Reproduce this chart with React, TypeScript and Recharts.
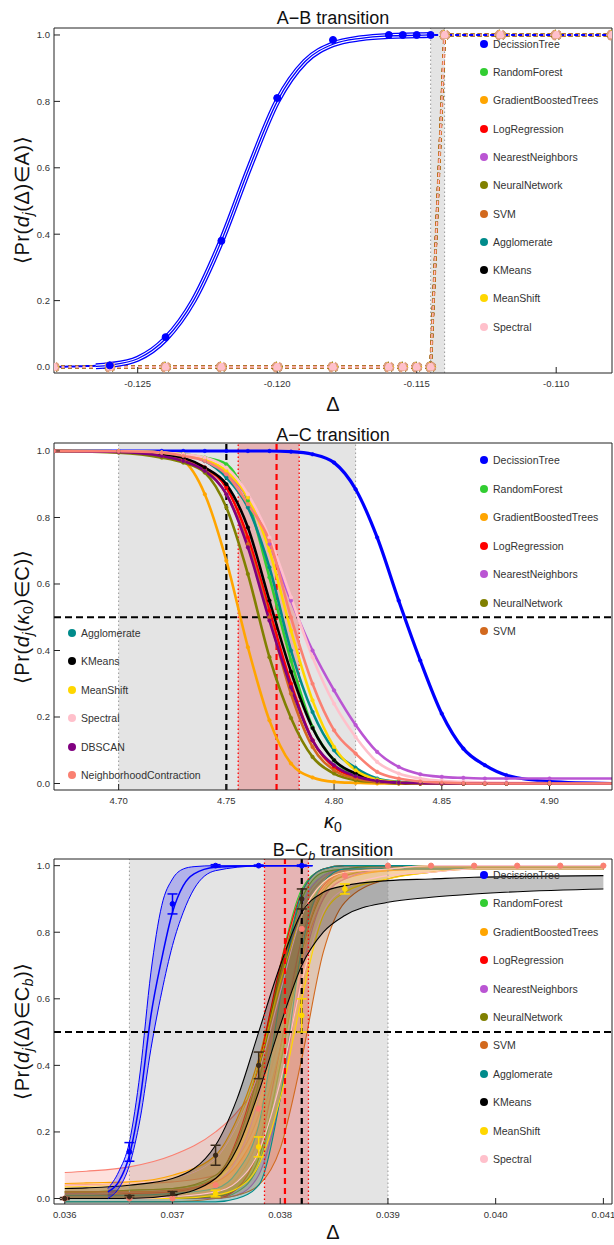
import React from "react";
import { Area, ComposedChart, ErrorBar, Line, ReferenceArea, ReferenceLine, XAxis, YAxis } from "recharts";

const FONT = '"Liberation Sans", Arial, sans-serif';

const NAMES = [
  "DecissionTree",
  "RandomForest",
  "GradientBoostedTrees",
  "LogRegression",
  "NearestNeighbors",
  "NeuralNetwork",
  "SVM",
  "Agglomerate",
  "KMeans",
  "MeanShift",
  "Spectral",
  "DBSCAN",
  "NeighborhoodContraction",
];
const COLORS = [
  "#0000ff",
  "#32cd32",
  "#ffa500",
  "#ff0000",
  "#ba55d3",
  "#808000",
  "#d2691e",
  "#008b8b",
  "#000000",
  "#ffd700",
  "#ffc0cb",
  "#800080",
  "#fa8072",
];

const Y_MAJOR = [0, 0.2, 0.4, 0.6, 0.8, 1];
const Y_MINOR = [0, 0.05, 0.1, 0.15, 0.2, 0.25, 0.3, 0.35, 0.4, 0.45, 0.5, 0.55, 0.6, 0.65, 0.7, 0.75, 0.8, 0.85, 0.9, 0.95, 1];

// ---- A-B transition ----
const abX = [-0.128, -0.126, -0.124, -0.122, -0.12, -0.118, -0.116, -0.1155, -0.115, -0.1145, -0.114, -0.112, -0.11, -0.108];
const abTree = [0, 0.005, 0.09, 0.38, 0.81, 0.985, 1, 1, 1, 1, 1, 1, 1, 1];
const abOthers = [0, 0, 0, 0, 0, 0, 0, 0, 0, 0, 1, 1, 1, 1];
const abFitX = [-0.1265, -0.126, -0.125, -0.124, -0.123, -0.122, -0.121, -0.12, -0.119, -0.118, -0.117, -0.116, -0.115, -0.1145];
const abFit = [0.002, 0.006, 0.025, 0.085, 0.2, 0.38, 0.6, 0.8, 0.92, 0.972, 0.99, 0.997, 0.999, 1];
const abTreePtsX = [-0.126, -0.124, -0.122, -0.12, -0.118, -0.116, -0.1155, -0.115, -0.1145];
const abTreePts = [0.005, 0.09, 0.38, 0.81, 0.985, 1, 1, 1, 1];
const abTicks = [-0.125, -0.12, -0.115, -0.11];
const abMinor = [-0.128, -0.127, -0.126, -0.125, -0.124, -0.123, -0.122, -0.121, -0.12, -0.119, -0.118, -0.117, -0.116, -0.115, -0.114, -0.113, -0.112, -0.111, -0.11, -0.109, -0.108];

// ---- A-C transition ----
const acX = [4.67, 4.7, 4.72, 4.73, 4.74, 4.75, 4.76, 4.77, 4.78, 4.79, 4.8, 4.81, 4.82, 4.83, 4.84, 4.85, 4.86, 4.87, 4.88, 4.9, 4.93];
const acTree = [1, 1, 1, 1, 1, 1, 1, 1, 0.998, 0.99, 0.965, 0.885, 0.74, 0.55, 0.37, 0.21, 0.105, 0.055, 0.025, 0.006, 0];
const acForest = [1, 0.999, 0.995, 0.99, 0.98, 0.96, 0.85, 0.62, 0.37, 0.17, 0.07, 0.025, 0.009, 0.003, 0.001, 0, 0, 0, 0, 0, 0];
const acBoost = [1, 0.998, 0.99, 0.97, 0.87, 0.67, 0.41, 0.19, 0.06, 0.018, 0.005, 0.002, 0, 0, 0, 0, 0, 0, 0, 0, 0];
const acLog = [1, 0.998, 0.99, 0.975, 0.95, 0.89, 0.74, 0.52, 0.3, 0.13, 0.05, 0.018, 0.006, 0.002, 0, 0, 0, 0, 0, 0, 0];
const acNear = [1, 0.999, 0.995, 0.99, 0.97, 0.93, 0.86, 0.72, 0.55, 0.4, 0.28, 0.176, 0.095, 0.05, 0.028, 0.02, 0.017, 0.015, 0.015, 0.015, 0.015];
const acNeural = [1, 0.995, 0.98, 0.965, 0.935, 0.83, 0.63, 0.38, 0.197, 0.08, 0.03, 0.01, 0.004, 0, 0, 0, 0, 0, 0, 0, 0];
const acSvm = [1, 0.998, 0.99, 0.975, 0.945, 0.87, 0.72, 0.5, 0.27, 0.11, 0.04, 0.015, 0.005, 0.001, 0, 0, 0, 0, 0, 0, 0];
const acAgg = [1, 0.999, 0.995, 0.99, 0.97, 0.92, 0.83, 0.65, 0.4, 0.215, 0.1, 0.047, 0.015, 0.005, 0.002, 0, 0, 0, 0, 0, 0];
const acKm = [1, 0.999, 0.99, 0.98, 0.95, 0.9, 0.77, 0.55, 0.336, 0.167, 0.07, 0.03, 0.01, 0.003, 0, 0, 0, 0, 0, 0, 0];
const acShift = [1, 0.999, 0.995, 0.99, 0.975, 0.94, 0.86, 0.7, 0.46, 0.25, 0.11, 0.04, 0.012, 0.004, 0, 0, 0, 0, 0, 0, 0];
const acSpec = [1, 0.999, 0.995, 0.99, 0.98, 0.95, 0.87, 0.74, 0.56, 0.38, 0.24, 0.14, 0.065, 0.03, 0.015, 0.008, 0.005, 0.003, 0.002, 0.001, 0];
const acDb = [1, 0.997, 0.985, 0.97, 0.94, 0.87, 0.71, 0.49, 0.29, 0.13, 0.055, 0.022, 0.008, 0.003, 0.001, 0, 0, 0, 0, 0, 0];
const acNc = [1, 0.999, 0.995, 0.985, 0.97, 0.93, 0.84, 0.73, 0.5, 0.3, 0.16, 0.09, 0.035, 0.015, 0.006, 0.003, 0.001, 0, 0, 0, 0];
const acSeries = [acTree, acForest, acBoost, acLog, acNear, acNeural, acSvm, acAgg, acKm, acShift, acSpec, acDb, acNc];
const acTicks = [4.7, 4.75, 4.8, 4.85, 4.9];
const acMinor = [4.67, 4.68, 4.69, 4.7, 4.71, 4.72, 4.73, 4.74, 4.75, 4.76, 4.77, 4.78, 4.79, 4.8, 4.81, 4.82, 4.83, 4.84, 4.85, 4.86, 4.87, 4.88, 4.89, 4.9, 4.91, 4.92];

// ---- B-Cb transition ----
const bcX = [0.036, 0.0362, 0.0366, 0.037, 0.0374, 0.0376, 0.0378, 0.038, 0.0382, 0.0384, 0.0386, 0.039, 0.0394, 0.0398, 0.041];
const bcForestLo = [0, 0, 0, 0, 0, 0.02, 0.1, 0.4, 0.78, 0.95, 0.98, 0.99, 0.99, 0.99, 0.99];
const bcForestHi = [0.02, 0.02, 0.025, 0.03, 0.06, 0.15, 0.35, 0.7, 0.93, 0.99, 1, 1, 1, 1, 1];
const bcBoostLo = [0, 0, 0, 0.005, 0.02, 0.06, 0.18, 0.42, 0.72, 0.9, 0.96, 0.985, 0.99, 0.995, 0.995];
const bcBoostHi = [0.045, 0.047, 0.05, 0.07, 0.13, 0.24, 0.42, 0.68, 0.88, 0.97, 0.99, 1, 1, 1, 1];
const bcLogLo = [0, 0, 0, 0, 0, 0.03, 0.15, 0.45, 0.78, 0.94, 0.98, 0.99, 0.99, 0.99, 0.99];
const bcLogHi = [0.01, 0.01, 0.015, 0.02, 0.06, 0.18, 0.4, 0.7, 0.92, 0.99, 1, 1, 1, 1, 1];
const bcNearLo = [0, 0, 0, 0, 0, 0.01, 0.07, 0.3, 0.68, 0.9, 0.96, 0.99, 0.99, 0.99, 0.99];
const bcNearHi = [0.015, 0.015, 0.02, 0.025, 0.05, 0.12, 0.3, 0.62, 0.88, 0.97, 0.99, 1, 1, 1, 1];
const bcNeuralLo = [0, 0, 0, 0, 0.005, 0.03, 0.12, 0.4, 0.74, 0.92, 0.97, 0.99, 0.99, 0.99, 0.99];
const bcNeuralHi = [0.02, 0.02, 0.025, 0.03, 0.07, 0.17, 0.38, 0.68, 0.9, 0.98, 0.99, 1, 1, 1, 1];
const bcSvmLo = [-0.01, -0.01, -0.01, -0.01, 0, 0.01, 0.04, 0.15, 0.42, 0.74, 0.89, 0.96, 0.98, 0.99, 0.99];
const bcSvmHi = [0.02, 0.02, 0.02, 0.025, 0.05, 0.1, 0.22, 0.45, 0.75, 0.93, 0.98, 0.99, 1, 1, 1];
const bcAggLo = [-0.01, -0.01, -0.01, -0.01, -0.01, 0, 0.04, 0.3, 0.75, 0.95, 0.99, 0.99, 0.99, 0.99, 0.99];
const bcAggHi = [0.01, 0.01, 0.01, 0.015, 0.03, 0.08, 0.22, 0.6, 0.92, 0.99, 1, 1, 1, 1, 1];
const bcKmLo = [0, 0, 0, 0.01, 0.06, 0.15, 0.32, 0.52, 0.7, 0.8, 0.85, 0.89, 0.905, 0.915, 0.93];
const bcKmHi = [0.03, 0.032, 0.04, 0.06, 0.16, 0.3, 0.5, 0.7, 0.86, 0.92, 0.94, 0.955, 0.96, 0.965, 0.97];
const bcShiftLo = [0, 0, 0, 0, 0.01, 0.03, 0.1, 0.3, 0.6, 0.85, 0.92, 0.96, 0.98, 0.99, 0.99];
const bcShiftHi = [0.035, 0.037, 0.045, 0.06, 0.12, 0.22, 0.4, 0.65, 0.85, 0.95, 0.98, 0.99, 1, 1, 1];
const bcSpecLo = [0, 0, 0, 0.005, 0.02, 0.05, 0.14, 0.35, 0.65, 0.86, 0.93, 0.97, 0.98, 0.99, 0.99];
const bcSpecHi = [0.04, 0.04, 0.045, 0.06, 0.12, 0.22, 0.38, 0.62, 0.85, 0.95, 0.98, 0.99, 1, 1, 1];
const bcNcLo = [0.04, 0.041, 0.044, 0.05, 0.07, 0.12, 0.25, 0.5, 0.78, 0.93, 0.97, 0.985, 0.99, 0.99, 0.99];
const bcNcHi = [0.078, 0.082, 0.095, 0.13, 0.2, 0.26, 0.36, 0.6, 0.86, 0.96, 0.99, 1, 1, 1, 1];
// index into NAMES -> [lo, hi]; salmon first so it sits underneath
const bcBands: [number, number[], number[]][] = [
  [12, bcNcLo, bcNcHi],
  [1, bcForestLo, bcForestHi],
  [2, bcBoostLo, bcBoostHi],
  [3, bcLogLo, bcLogHi],
  [4, bcNearLo, bcNearHi],
  [5, bcNeuralLo, bcNeuralHi],
  [6, bcSvmLo, bcSvmHi],
  [7, bcAggLo, bcAggHi],
  [9, bcShiftLo, bcShiftHi],
  [10, bcSpecLo, bcSpecHi],
  [8, bcKmLo, bcKmHi],
];
const bcTreeX = [0.0364, 0.0365, 0.0366, 0.0367, 0.0368, 0.0369, 0.037, 0.0371, 0.0372, 0.0374, 0.0378, 0.0383];
const bcTree = [0.02, 0.05, 0.13, 0.3, 0.55, 0.72, 0.86, 0.94, 0.975, 0.995, 1, 1];
const bcTreeLo = [0, 0.03, 0.1, 0.24, 0.45, 0.62, 0.76, 0.86, 0.93, 0.985, 0.999, 1];
const bcTreeHi = [0.03, 0.08, 0.17, 0.38, 0.68, 0.88, 0.96, 0.99, 0.997, 1, 1, 1];
const bcTreePtsX = [0.0366, 0.037, 0.0374, 0.0378, 0.0382];
const bcTreePts = [0.14, 0.885, 1, 1, 1];
const bcTreeErr = [0.028, 0.03, 0.003, 0.002, 0.002];
const bcKmPtsX = [0.036, 0.0366, 0.037, 0.0374, 0.0378, 0.0382];
const bcKmPts = [0.0, 0.005, 0.015, 0.13, 0.4, 0.9];
const bcKmErr = [0.003, 0.004, 0.006, 0.03, 0.04, 0.03];
const bcShiftPtsX = [0.0374, 0.0378, 0.0382, 0.0386];
const bcShiftPts = [0.015, 0.155, 0.55, 0.93];
const bcShiftErr = [0.01, 0.03, 0.05, 0.015];
const bcNcPtsX = [0.036, 0.0366, 0.037, 0.0374, 0.0378, 0.0382, 0.0386, 0.039, 0.0394, 0.0398, 0.0402, 0.0406, 0.041];
const bcNcPts = [0, 0, 0, 0.04, 0.27, 0.81, 0.97, 1, 1, 1, 1, 1, 1];
const bcTicks = [0.036, 0.037, 0.038, 0.039, 0.04, 0.041];
const bcMinor = [0.036, 0.0362, 0.0364, 0.0366, 0.0368, 0.037, 0.0372, 0.0374, 0.0376, 0.0378, 0.038, 0.0382, 0.0384, 0.0386, 0.0388, 0.039, 0.0392, 0.0394, 0.0396, 0.0398, 0.04, 0.0402, 0.0404, 0.0406, 0.0408, 0.041];

const W = 614;
const H = 415;
const TICK = { fontSize: 9.5, fill: "#333", fontFamily: FONT };

function frame(xDomain: [number, number], yDomain: [number, number], major: number[], minor: number[], digits: number) {
  const x = { dataKey: "x", type: "number" as const, domain: xDomain, allowDataOverflow: true, interval: 0 as const, stroke: "#222" };
  const y = { type: "number" as const, domain: yDomain, allowDataOverflow: true, interval: 0 as const, stroke: "#222" };
  return [
    <XAxis key="x" xAxisId="x" {...x} ticks={major} height={1} tickSize={-6} tickMargin={13} tick={TICK} tickFormatter={(v: number) => v.toFixed(digits)} />,
    <XAxis key="xm" xAxisId="xm" {...x} ticks={minor} height={1} tickSize={-3.5} tick={false} axisLine={false} />,
    <XAxis key="xt" xAxisId="xt" orientation="top" {...x} ticks={major} height={1} tickSize={-6} tick={false} />,
    <XAxis key="xtm" xAxisId="xtm" orientation="top" {...x} ticks={minor} height={1} tickSize={-3.5} tick={false} axisLine={false} />,
    <YAxis key="y" yAxisId="y" {...y} ticks={Y_MAJOR} width={1} tickSize={-6} tickMargin={10} tick={TICK} tickFormatter={(v: number) => v.toFixed(1)} />,
    <YAxis key="ym" yAxisId="ym" {...y} ticks={Y_MINOR} width={1} tickSize={-3.5} tick={false} axisLine={false} />,
    <YAxis key="yr" yAxisId="yr" orientation="right" {...y} ticks={Y_MAJOR} width={1} tickSize={-6} tick={false} />,
    <YAxis key="yrm" yAxisId="yrm" orientation="right" {...y} ticks={Y_MINOR} width={1} tickSize={-3.5} tick={false} axisLine={false} />,
  ];
}

const ids = { xAxisId: "x", yAxisId: "y", isAnimationActive: false };
const GRAY = "#e4e4e4";
const DOTTED_GRAY = { stroke: "#999", strokeDasharray: "1.5 2.5", strokeWidth: 1 };
const RED_DOT = { stroke: "#ff0000", strokeDasharray: "1.5 2.5", strokeWidth: 1.3 };

function toRows(xs: number[], ys: number[]) {
  return xs.map((x, i) => ({ x, y: ys[i] }));
}

function AbChart() {
  const stepRows = toRows(abX, abOthers);
  const treeRows = toRows(abX, abTree);
  const fitRows = toRows(abFitX, abFit);
  const ptRows = toRows(abTreePtsX, abTreePts);
  const under = [1, 2, 3, 4, 5, 7, 8, 9];
  return (
    <ComposedChart width={W} height={H} margin={{ top: 26, right: 0, bottom: 40, left: 52 }}>
      {frame([-0.128, -0.108], [-0.018, 1.021], abTicks, abMinor, 3)}
      <ReferenceArea {...ids} x1={-0.1145} x2={-0.114} fill={GRAY} fillOpacity={1} />
      <ReferenceLine {...ids} x={-0.1145} {...DOTTED_GRAY} />
      <ReferenceLine {...ids} x={-0.114} {...DOTTED_GRAY} />
      {under.map((k) => (
        <Line key={NAMES[k]} {...ids} data={stepRows} dataKey="y" type="linear" stroke={COLORS[k]} strokeWidth={2.5} strokeDasharray="4 3" dot={{ r: 4, fill: COLORS[k], stroke: COLORS[k] }} />
      ))}
      <Line {...ids} data={stepRows} dataKey="y" type="linear" stroke={COLORS[6]} strokeWidth={3} strokeDasharray="4 3" dot={{ r: 4.2, fill: "#e0a080", stroke: "#e0a080" }} />
      <Line {...ids} data={stepRows} dataKey="y" type="linear" stroke={COLORS[10]} strokeWidth={1.4} strokeDasharray="4 3" dot={{ r: 3.4, fill: COLORS[10], stroke: COLORS[10] }} />
      <Line {...ids} data={treeRows.slice(0, 2)} dataKey="y" type="linear" stroke={COLORS[0]} strokeWidth={2} strokeDasharray="4 3" strokeDashoffset={3.5} dot={false} />
      <Line {...ids} data={treeRows.slice(9)} dataKey="y" type="linear" stroke={COLORS[0]} strokeWidth={2} strokeDasharray="4 3" strokeDashoffset={3.5} dot={false} />
      <Line {...ids} data={fitRows} dataKey="y" type="monotone" stroke={COLORS[0]} strokeWidth={6} dot={false} />
      <Line {...ids} data={fitRows} dataKey="y" type="monotone" stroke="#ffffff" strokeWidth={3.4} dot={false} />
      <Line {...ids} data={fitRows} dataKey="y" type="monotone" stroke={COLORS[0]} strokeWidth={1.3} dot={false} />
      <Line {...ids} data={ptRows} dataKey="y" stroke="none" dot={{ r: 3.5, fill: COLORS[0], stroke: COLORS[0] }} />
    </ComposedChart>
  );
}

function AcChart() {
  const rows = acX.map((x, i) => {
    const r: Record<string, number> = { x };
    NAMES.forEach((n, k) => (r[n] = acSeries[k][i]));
    return r;
  });
  return (
    <ComposedChart width={W} height={H} data={rows} margin={{ top: 26, right: 0, bottom: 38, left: 52 }}>
      {frame([4.67, 4.929], [-0.0195, 1.024], acTicks, acMinor, 2)}
      <ReferenceArea {...ids} x1={4.7} x2={4.81} fill={GRAY} fillOpacity={1} />
      <ReferenceArea {...ids} x1={4.7555} x2={4.7838} fill="#e6b4b4" fillOpacity={1} />
      <ReferenceLine {...ids} x={4.7} {...DOTTED_GRAY} />
      <ReferenceLine {...ids} x={4.81} {...DOTTED_GRAY} />
      <ReferenceLine {...ids} x={4.7555} {...RED_DOT} />
      <ReferenceLine {...ids} x={4.7838} {...RED_DOT} />
      <ReferenceLine {...ids} x={4.7733} stroke="#ff0000" strokeWidth={2.2} strokeDasharray="6 4" />
      <ReferenceLine {...ids} x={4.75} stroke="#000" strokeWidth={2.2} strokeDasharray="6 4" />
      <ReferenceLine {...ids} y={0.5} stroke="#000" strokeWidth={2} strokeDasharray="7 4" />
      {NAMES.map((n, k) => (
        <Line key={n} {...ids} dataKey={n} type="monotone" stroke={COLORS[k]} strokeWidth={k === 0 ? 3.2 : 2.6} dot={{ r: 1.8, fill: COLORS[k], stroke: COLORS[k], strokeWidth: 0.5 }} />
      ))}
    </ComposedChart>
  );
}

function BcChart() {
  const rows = bcX.map((x, i) => {
    const r: Record<string, number | number[]> = { x };
    bcBands.forEach(([k, lo, hi]) => (r[NAMES[k]] = [lo[i], hi[i]]));
    return r;
  });
  const treeRows = bcTreeX.map((x, i) => ({ x, y: bcTree[i], band: [bcTreeLo[i], bcTreeHi[i]] }));
  const pts = (xs: number[], ys: number[], es: number[]) => xs.map((x, i) => ({ x, y: ys[i], e: es[i] }));
  return (
    <ComposedChart width={W} height={H} data={rows} margin={{ top: 27, right: 0, bottom: 39, left: 52 }}>
      {frame([0.0359, 0.04108], [-0.0165, 1.02], bcTicks, bcMinor, 3)}
      <ReferenceArea {...ids} x1={0.0366} x2={0.039} fill={GRAY} fillOpacity={1} />
      <ReferenceArea {...ids} x1={0.037854} x2={0.038262} fill="#e6b4b4" fillOpacity={1} />
      <ReferenceLine {...ids} x={0.0366} {...DOTTED_GRAY} />
      <ReferenceLine {...ids} x={0.039} {...DOTTED_GRAY} />
      <ReferenceLine {...ids} x={0.037854} {...RED_DOT} />
      <ReferenceLine {...ids} x={0.038262} {...RED_DOT} />
      <ReferenceLine {...ids} x={0.038044} stroke="#ff0000" strokeWidth={2.2} strokeDasharray="6 4" />
      <ReferenceLine {...ids} x={0.0382} stroke="#000" strokeWidth={2.2} strokeDasharray="6 4" />
      <ReferenceLine {...ids} y={0.5} stroke="#000" strokeWidth={2} strokeDasharray="7 4" />
      {bcBands.map(([k]) => (
        <Area key={NAMES[k]} {...ids} dataKey={NAMES[k]} type="monotone" stroke={COLORS[k]} strokeWidth={1.1} fill={COLORS[k]} fillOpacity={0.24} dot={false} activeDot={false} />
      ))}
      <Area {...ids} data={treeRows} dataKey="band" type="monotone" stroke={COLORS[0]} strokeWidth={1} fill={COLORS[0]} fillOpacity={0.22} dot={false} activeDot={false} />
      <Line {...ids} data={treeRows} dataKey="y" type="monotone" stroke={COLORS[0]} strokeWidth={1.5} dot={false} />
      <Line {...ids} data={pts(bcNcPtsX, bcNcPts, bcNcPts.map(() => 0))} dataKey="y" stroke="none" dot={{ r: 2.6, fill: COLORS[12], stroke: COLORS[12] }} />
      <Line {...ids} data={pts(bcShiftPtsX, bcShiftPts, bcShiftErr)} dataKey="y" stroke="none" dot={{ r: 2.4, fill: COLORS[9], stroke: COLORS[9] }}>
        <ErrorBar dataKey="e" direction="y" width={5} stroke={COLORS[9]} strokeWidth={1.5} />
      </Line>
      <Line {...ids} data={pts(bcKmPtsX, bcKmPts, bcKmErr)} dataKey="y" stroke="none" dot={{ r: 2.2, fill: "#3a2a1a", stroke: "#3a2a1a" }}>
        <ErrorBar dataKey="e" direction="y" width={5} stroke="#3a2a1a" strokeWidth={1.5} />
      </Line>
      <Line {...ids} data={pts(bcTreePtsX, bcTreePts, bcTreeErr)} dataKey="y" stroke="none" dot={{ r: 2.4, fill: COLORS[0], stroke: COLORS[0] }}>
        <ErrorBar dataKey="e" direction="y" width={5} stroke={COLORS[0]} strokeWidth={1.5} />
      </Line>
    </ComposedChart>
  );
}

function Legend({ items, x, y0, step }: { items: number[]; x: number; y0: number; step: number }) {
  return (
    <>
      {items.map((k, i) => (
        <div key={k} style={{ position: "absolute", left: x - 4, top: y0 + i * step - 8, height: 16, display: "flex", alignItems: "center", whiteSpace: "nowrap" }}>
          <span style={{ width: 8, height: 8, borderRadius: 4, background: COLORS[k], display: "inline-block" }} />
          <span style={{ marginLeft: 5, fontSize: 10.5, color: "#333" }}>{NAMES[k]}</span>
        </div>
      ))}
    </>
  );
}

function Title({ top, children }: { top: number; children: React.ReactNode }) {
  return (
    <div style={{ position: "absolute", left: 183, top: top - 11, width: 300, height: 22, lineHeight: "22px", textAlign: "center", fontSize: 18 }}>{children}</div>
  );
}

function XLabel({ top, children }: { top: number; children: React.ReactNode }) {
  return (
    <div style={{ position: "absolute", left: 233, top: top - 12, width: 200, height: 24, lineHeight: "24px", textAlign: "center", fontSize: 20 }}>{children}</div>
  );
}

function YLabel({ cy, children }: { cy: number; children: React.ReactNode }) {
  return (
    <div style={{ position: "absolute", left: 22 - 150, top: cy - 13, width: 300, height: 26, lineHeight: "26px", textAlign: "center", fontSize: 20, letterSpacing: 0.6, transform: "rotate(-90deg)", whiteSpace: "nowrap" }}>{children}</div>
  );
}

const sub = { fontSize: "0.7em", verticalAlign: "-0.3em" };

export default function App() {
  const all11 = [0, 1, 2, 3, 4, 5, 6, 7, 8, 9, 10];
  return (
    <div style={{ position: "absolute", left: 0, top: 0, width: 614, height: 1245, background: "#fff", fontFamily: FONT, color: "#111", overflow: "hidden" }}>
      <div style={{ position: "absolute", left: 0, top: 0 }}>
        <AbChart />
      </div>
      <div style={{ position: "absolute", left: 0, top: 415 }}>
        <AcChart />
      </div>
      <div style={{ position: "absolute", left: 0, top: 830 }}>
        <BcChart />
      </div>

      <Title top={18}>A−B transition</Title>
      <Title top={435}>A−C transition</Title>
      <Title top={850}>
        B−C<i style={sub}>b</i> transition
      </Title>

      <XLabel top={404}>Δ</XLabel>
      <XLabel top={821}>
        <i>κ</i>
        <span style={sub}>0</span>
      </XLabel>
      <XLabel top={1232}>Δ</XLabel>

      <YLabel cy={200}>
        ⟨Pr(<i>d</i>
        <i style={sub}>j</i>(Δ)∈A)⟩
      </YLabel>
      <YLabel cy={617}>
        ⟨Pr(<i>d</i>
        <i style={sub}>j</i>(<i>κ</i>
        <span style={sub}>0</span>)∈C)⟩
      </YLabel>
      <YLabel cy={1031}>
        ⟨Pr(<i>d</i>
        <i style={sub}>j</i>(Δ)∈C<i style={sub}>b</i>)⟩
      </YLabel>

      <Legend items={all11} x={484} y0={43.7} step={28.3} />
      <Legend items={[0, 1, 2, 3, 4, 5, 6]} x={484} y0={460} step={28.5} />
      <Legend items={[7, 8, 9, 10, 11, 12]} x={72} y0={633} step={28.4} />
      <Legend items={all11} x={484} y0={875} step={28.4} />
    </div>
  );
}
